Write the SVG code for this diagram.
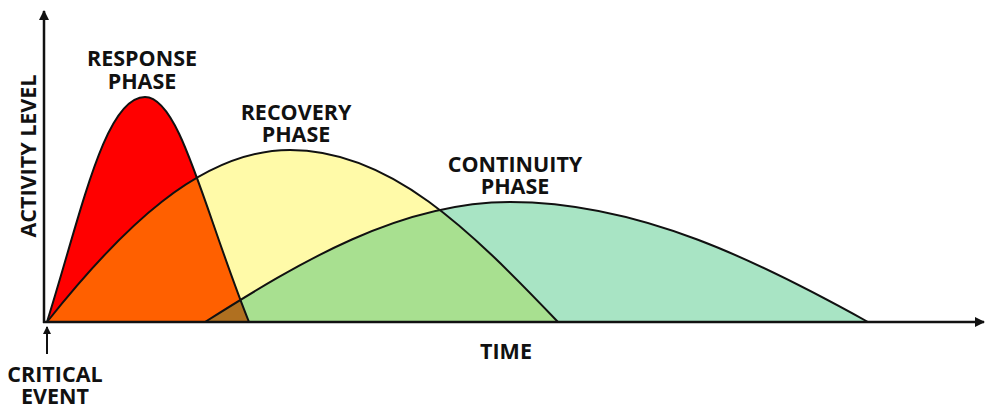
<svg xmlns="http://www.w3.org/2000/svg" width="985" height="409" viewBox="0 0 985 409">
<style>
.lbl{font-family:"Open Sans","Liberation Sans",sans-serif;font-weight:bold;font-size:21.5px;fill:#111;text-anchor:middle}
.crv{fill:none;stroke:#111;stroke-width:2}
.ax{stroke:#111;stroke-width:2.5;fill:none}
</style>
<defs>
<path id="pR" d="M47,322 C82,210 105,97 145,97 C180,97 204,210 249,322 Z"/>
<path id="pY" d="M47,322 C120,230 200,150 290,150 C390,150 470,230 558,322 Z"/>
<path id="pG" d="M205,322 C300,262 400,202 510,202 C640,202 760,262 868,322 Z"/>
<clipPath id="cR"><use href="#pR"/></clipPath>
<clipPath id="cY"><use href="#pY"/></clipPath>
<clipPath id="cG"><use href="#pG"/></clipPath>
<marker id="ah" markerWidth="10" markerHeight="10" refX="9" refY="5" orient="auto" markerUnits="userSpaceOnUse"><path d="M0,0 L10,5 L0,10 Z" fill="#111"/></marker>
<marker id="ahs" markerWidth="8" markerHeight="8" refX="7" refY="4" orient="auto" markerUnits="userSpaceOnUse"><path d="M0,0 L8,4 L0,8 Z" fill="#111"/></marker>
</defs>
<g id="continuity-phase">
<use href="#pG" fill="#a8e4c4"/>
</g>
<g id="recovery-phase">
<use href="#pY" fill="#fffaa8"/>
<use href="#pG" fill="#a8e090" clip-path="url(#cY)"/>
</g>
<g id="response-phase">
<use href="#pR" fill="#ff0000"/>
<use href="#pR" fill="#ff6000" clip-path="url(#cY)"/>
<use href="#pR" fill="#b07020" clip-path="url(#cG)"/>
</g>
<g id="curves">
<use href="#pG" class="crv"/>
<use href="#pY" class="crv"/>
<use href="#pR" class="crv"/>
</g>
<g id="axes">
<line class="ax" x1="44" y1="323" x2="44" y2="11" marker-end="url(#ah)"/>
<line class="ax" x1="43" y1="322" x2="984" y2="322" marker-end="url(#ah)"/>
<line x1="47" y1="354" x2="47" y2="327" stroke="#111" stroke-width="2" marker-end="url(#ahs)"/>
</g>
<g id="labels">
<text class="lbl" x="142" y="66">RESPONSE<tspan x="142" y="89">PHASE</tspan></text>
<text class="lbl" x="296" y="120">RECOVERY<tspan x="296" y="142">PHASE</tspan></text>
<text class="lbl" x="515" y="172">CONTINUITY<tspan x="515" y="194">PHASE</tspan></text>
<text class="lbl" x="506" y="359">TIME</text>
<text class="lbl" x="55" y="382">CRITICAL<tspan x="55" y="404">EVENT</tspan></text>
<text class="lbl" transform="translate(36,156) rotate(-90)">ACTIVITY LEVEL</text>
</g>
</svg>
